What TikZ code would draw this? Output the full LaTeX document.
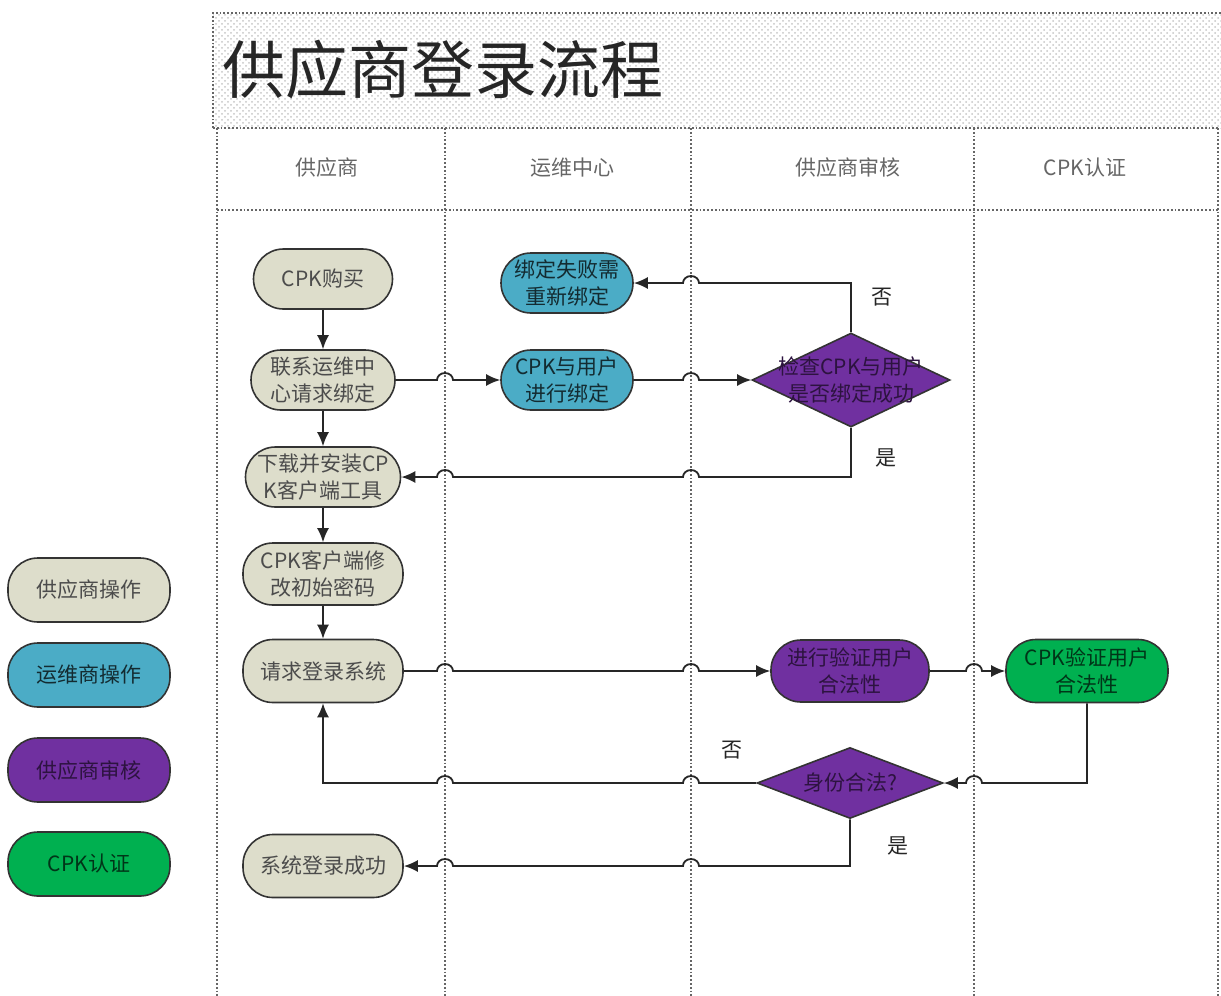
\documentclass[tikz,border=0pt]{standalone}
\usepackage{fontspec}
\newfontfamily\cjk{Noto Sans CJK SC}
\usetikzlibrary{shapes.geometric, arrows.meta, patterns}

\definecolor{supplier}{RGB}{221,221,203}
\definecolor{ops}{RGB}{75,172,198}
\definecolor{audit}{RGB}{112,48,160}
\definecolor{cpk}{RGB}{0,176,80}

% line hops over the lane lines
\newcommand{\hopright}[2]{-- (#1-8,#2) arc[start angle=180, end angle=0, x radius=4pt, y radius=3.5pt]}
\newcommand{\hopleft}[2]{-- (#1+8,#2) arc[start angle=0, end angle=180, x radius=4pt, y radius=3.5pt]}

\begin{document}
\begin{tikzpicture}[x = 0.5pt, y = -0.5pt,
    font = \cjk\fontsize{10.5}{13.5}\selectfont,
    lane/.style = {densely dotted, line width = 0.9pt, black!60},
    stadium/.style = {draw = black!80, line width = 0.8pt, rounded corners = 15pt, minimum height = 30pt, inner sep = 1pt, align = center, text = black!70},
    decision/.style = {diamond, draw = black!80, line width = 0.8pt, fill = audit, inner sep = 0pt},
    flow/.style = {draw = black!85, line width = 0.9pt, -{Latex[length = 7pt, width = 6pt]}},
    answer/.style = {text = black!85, inner sep = 0pt}
]
    \useasboundingbox (0,0) rectangle (1221,996);

    % title band and lanes
    \fill[white] (213,13) rectangle (1221,128);
    \fill[pattern = crosshatch dots, pattern color = black!22] (213,13) rectangle (1221,128);
    \draw[lane] (213,128) -- (213,13) -- (1221,13);
    \draw[lane] (213,128) -- (1218,128);
    \node[anchor = west, inner sep = 0pt, text = black!85, font = \cjk\fontsize{31.5}{35}\selectfont] (title) at (222,70) {供应商登录流程};

    \foreach \x in {217, 445, 691, 974, 1218}
        \draw[lane] (\x,128) -- (\x,996);
    \draw[lane] (217,210) -- (1218,210);

    \node[text = black!60] (lanesupplier) at (327,168) {供应商};
    \node[text = black!60] (laneops) at (572,168) {运维中心};
    \node[text = black!60] (laneaudit) at (848,168) {供应商审核};
    \node[text = black!60] (lanecpk) at (1085,168) {CPK认证};

    % supplier lane
    \node[stadium, fill = supplier, minimum width = 69.5pt] (buy) at (323,279) {CPK购买};
    \node[stadium, fill = supplier, minimum width = 72pt] (contact) at (323,380) {联系运维中\\心请求绑定};
    \node[stadium, fill = supplier, minimum width = 77.5pt] (install) at (323,477) {下载并安装CP\\K客户端工具};
    \node[stadium, fill = supplier, minimum width = 80pt, minimum height = 31pt] (passwd) at (323,574) {CPK客户端修\\改初始密码};
    \node[stadium, fill = supplier, minimum width = 80pt, minimum height = 31.5pt] (login) at (323,671) {请求登录系统};
    \node[stadium, fill = supplier, minimum width = 80pt, minimum height = 31.5pt] (success) at (323,866) {系统登录成功};

    % ops lane
    \node[stadium, fill = ops, minimum width = 66pt, text = ops!25!black] (rebind) at (567,283) {绑定失败需\\重新绑定};
    \node[stadium, fill = ops, minimum width = 66pt, text = ops!25!black] (binding) at (567,380) {CPK与用户\\进行绑定};

    % audit and cpk lanes
    \node[decision, minimum width = 99pt, minimum height = 47pt,
        label = {[align = center, text = audit!40!black]center:{检查CPK与用户\\是否绑定成功}}] (check) at (851,380) {};
    \node[stadium, fill = audit, minimum width = 79pt, minimum height = 31pt, text = audit!40!black] (verify) at (850,671) {进行验证用户\\合法性};
    \node[stadium, fill = cpk, minimum width = 81pt, minimum height = 31.5pt, text = cpk!30!black] (cpkverify) at (1087,671) {CPK验证用户\\合法性};
    \node[decision, minimum width = 93pt, minimum height = 35.5pt,
        label = {[text = audit!40!black]center:{身份合法?}}] (legal) at (850,783) {};

    % legend
    \node[stadium, fill = supplier, minimum width = 81pt, minimum height = 32pt] (keysupplier) at (89,590) {供应商操作};
    \node[stadium, fill = ops, minimum width = 81pt, minimum height = 32pt, text = ops!25!black] (keyops) at (89,675) {运维商操作};
    \node[stadium, fill = audit, minimum width = 81pt, minimum height = 32pt, text = audit!40!black] (keyaudit) at (89,770) {供应商审核};
    \node[stadium, fill = cpk, minimum width = 81pt, minimum height = 32pt, text = cpk!30!black] (keycpk) at (89,864) {CPK认证};

    % flow
    \draw[flow] (buy) -- (contact);
    \draw[flow] (contact) -- (install);
    \draw[flow] (install) -- (passwd);
    \draw[flow] (passwd) -- (login);
    \draw[flow] (contact.east) \hopright{445}{380} -- (binding.west);
    \draw[flow] (binding.east) \hopright{691}{380} -- (check.west);
    \draw[flow] (check.north) -- (851,283) \hopleft{691}{283} -- (rebind.east);
    \draw[flow] (check.south) -- (851,477) \hopleft{691}{477} \hopleft{445}{477} -- (install.east);
    \draw[flow] (login.east) \hopright{445}{671} \hopright{691}{671} -- (verify.west);
    \draw[flow] (verify.east) \hopright{974}{671} -- (cpkverify.west);
    \draw[flow] (cpkverify.south) -- (1087,783) \hopleft{974}{783} -- (legal.east);
    \draw[flow] (legal.west) \hopleft{691}{783} \hopleft{445}{783} -- (323,783) -- (login.south);
    \draw[flow] (legal.south) -- (850,866) \hopleft{691}{866} \hopleft{445}{866} -- (success.east);

    \node[answer] (checkno) at (882,297) {否};
    \node[answer] (checkyes) at (886,458) {是};
    \node[answer] (legalno) at (732,750) {否};
    \node[answer] (legalyes) at (898,846) {是};

\end{tikzpicture}
\end{document}
